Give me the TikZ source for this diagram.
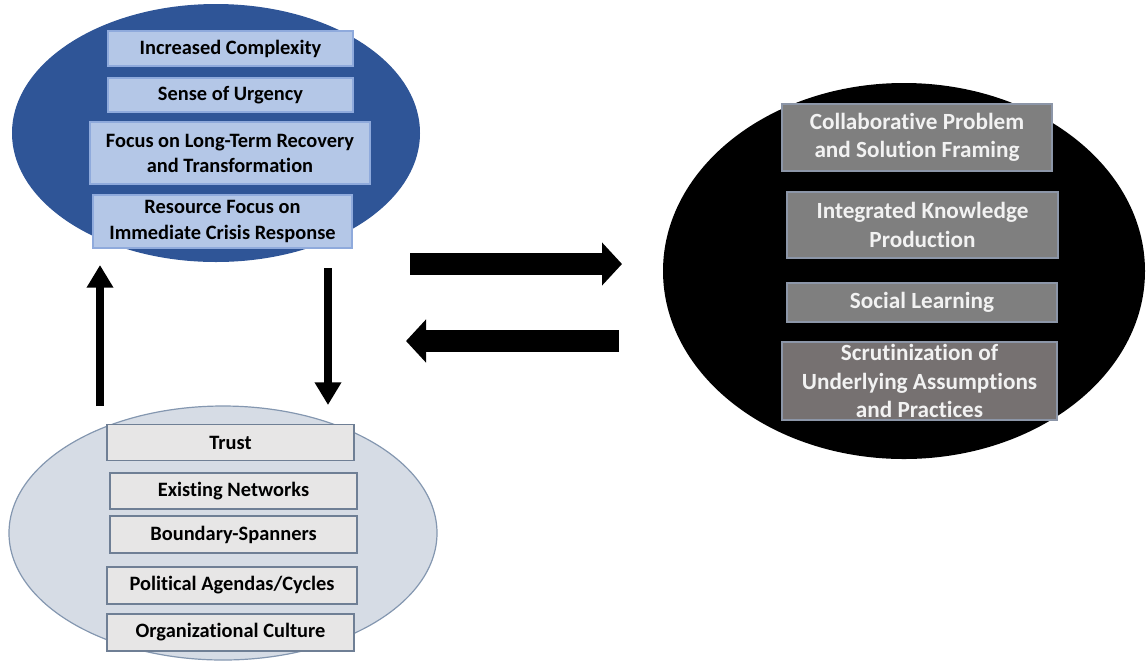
\documentclass[tikz,border=0pt]{standalone}
\usepackage{fontspec}
\setmainfont{Carlito}[RawFeature=-liga]
\usetikzlibrary{shapes.geometric,arrows.meta}
\definecolor{topfill}{HTML}{2F5597}
\definecolor{topbox}{HTML}{B4C7E7}
\definecolor{topboxline}{HTML}{8FAADC}
\definecolor{lowfill}{HTML}{D6DCE5}
\definecolor{lowline}{HTML}{8497B0}
\definecolor{lowbox}{HTML}{E7E6E6}
\definecolor{lowboxline}{HTML}{6F7F95}
\definecolor{rbox}{HTML}{7F7F7F}
\definecolor{rboxdark}{HTML}{767171}
\definecolor{rboxline}{HTML}{8C96A8}
\definecolor{rtext}{HTML}{F2F2F2}
\begin{document}
\begin{tikzpicture}[x=0.75pt,y=-0.75pt,
  oval/.style={ellipse, inner sep=0pt},
  bluebox/.style={draw=topboxline, fill=topbox, line width=1.1pt, align=center,
    font=\bfseries\fontsize{15.3}{18.8}\selectfont, text=black, inner sep=0pt},
  greybox/.style={draw=lowboxline, fill=lowbox, line width=0.9pt, align=center,
    font=\bfseries\fontsize{15.3}{18.8}\selectfont, text=black, inner sep=0pt},
  darkbox/.style={draw=rboxline, fill=rbox, line width=1.1pt, align=center,
    font=\bfseries\fontsize{17.4}{21.2}\selectfont, text=rtext, inner sep=0pt},
  fatarrow/.style={line width=16.5pt, -{Triangle[length=15pt, width=31.5pt]}},
  slimarrow/.style={line width=5.6pt, -{Triangle[length=17pt, width=19pt]}}
]
\useasboundingbox (0,0) rectangle (1146,662);

% ---- upper-left cluster: drivers ----
\node[oval, fill=topfill, minimum width=306pt, minimum height=193.5pt] (drivers) at (216,133) {};
\node[bluebox, minimum width=245*0.75pt, minimum height=35*0.75pt] (complexity) at (230.5,48.5) {Increased Complexity};
\node[bluebox, minimum width=245*0.75pt, minimum height=34*0.75pt] (urgency) at (230.5,95) {Sense of Urgency};
\node[bluebox, minimum width=280*0.75pt, minimum height=62*0.75pt] (recovery) at (230,153) {Focus on Long-Term Recovery\\and Transformation};
\node[bluebox, minimum width=259*0.75pt, minimum height=53*0.75pt] (resource) at (222.5,221.5) {Resource Focus on\\Immediate Crisis Response};

% ---- lower-left cluster: conditions ----
\node[oval, fill=lowfill, draw=lowline, line width=0.9pt, minimum width=321pt, minimum height=190.5pt] (conditions) at (223,533) {};
\node[greybox, minimum width=247*0.75pt, minimum height=36*0.75pt] (trust) at (230.5,442.5) {Trust};
\node[greybox, minimum width=247*0.75pt, minimum height=36*0.75pt] (networks) at (233.5,491) {Existing Networks};
\node[greybox, minimum width=247*0.75pt, minimum height=37*0.75pt] (spanners) at (233.5,534.5) {Boundary-Spanners};
\node[greybox, minimum width=250*0.75pt, minimum height=37*0.75pt] (agendas) at (232,585.5) {Political Agendas/Cycles};
\node[greybox, minimum width=247*0.75pt, minimum height=37*0.75pt] (culture) at (230.5,632.5) {Organizational Culture};

% ---- right cluster: collaborative processes ----
\node[oval, fill=black, minimum width=361.5pt, minimum height=282pt] (process) at (904,271) {};
\node[darkbox, minimum width=270*0.75pt, minimum height=67*0.75pt] (framing) at (917,137.5) {Collaborative Problem\\and Solution Framing};
\node[darkbox, minimum width=271*0.75pt, minimum height=66*0.75pt] (knowledge) at (922.5,225) {Integrated Knowledge\\Production};
\node[darkbox, minimum width=270*0.75pt, minimum height=39*0.75pt] (learning) at (922,302.5) {Social Learning};
\node[darkbox, fill=rboxdark, minimum width=275*0.75pt, minimum height=78*0.75pt] (scrutiny) at (919.5,381) {Scrutinization of\\Underlying Assumptions\\and Practices};

% ---- arrow end points ----
\coordinate (upfrom) at (100,406);
\coordinate (upto) at (100,265);
\coordinate (downfrom) at (328,268);
\coordinate (downto) at (328,405);
\coordinate (rightfrom) at (410,264);
\coordinate (rightto) at (622,264);
\coordinate (leftfrom) at (619,341);
\coordinate (leftto) at (406,341);

\draw[slimarrow] (upfrom) -- (upto);
\draw[slimarrow] (downfrom) -- (downto);
\draw[fatarrow] (rightfrom) -- (rightto);
\draw[fatarrow] (leftfrom) -- (leftto);
\end{tikzpicture}
\end{document}
